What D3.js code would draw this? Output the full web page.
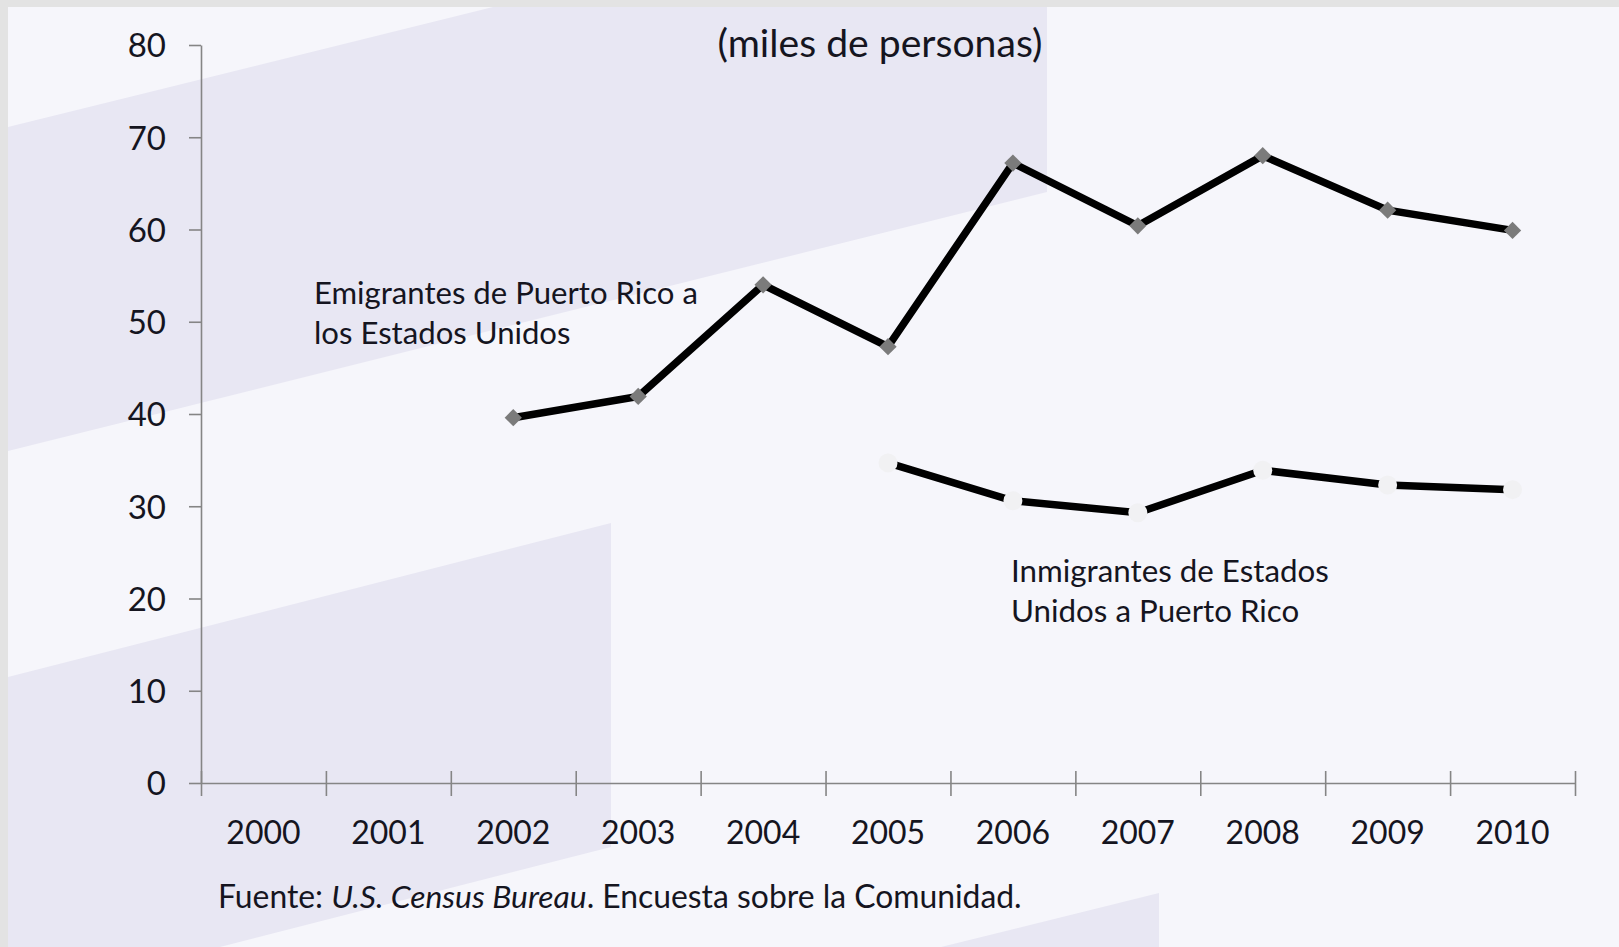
<!DOCTYPE html>
<html>
<head>
<meta charset="utf-8">
<script src="https://cdn.jsdelivr.net/npm/d3@7"></script>
<style>
  html, body { margin: 0; padding: 0; background: #e3e3e3; }
  svg { display: block; }
  text { font-family: Lato, "Open Sans", sans-serif; fill: #15151f; }
</style>
</head>
<body>
<svg id="chart" width="1619" height="947"></svg>
<script>
// ---------- data ----------
const years = ["2000","2001","2002","2003","2004","2005","2006","2007","2008","2009","2010"];
const emigrantes = [null, null, 39.6, 41.9, 54.0, 47.3, 67.2, 60.4, 68.0, 62.1, 59.9];
const inmigrantes = [null, null, null, null, null, 34.7, 30.6, 29.3, 33.9, 32.3, 31.8];
const yTicks = [0, 10, 20, 30, 40, 50, 60, 70, 80];
const titleText = "(miles de personas)";
const emiLabel = ["Emigrantes de Puerto Rico a", "los Estados Unidos"];
const inmLabel = ["Inmigrantes de Estados", "Unidos a Puerto Rico"];

// ---------- layout ----------
const W = 1619, H = 947;
const plot = { left: 201, right: 1575, top: 45, bottom: 783 };
const svg = d3.select("#chart");

// background panel and decorative shapes
svg.append("rect").attr("x", 0).attr("y", 0).attr("width", W).attr("height", H).attr("fill", "#e3e3e3");
svg.append("rect").attr("x", 8).attr("y", 7).attr("width", W - 8).attr("height", H - 7).attr("fill", "#f6f6fb");
const shapes = [
  [[8,127],[493,7],[1047,7],[1047,192],[8,451]],
  [[8,677],[611,523],[611,847],[220,947],[8,947]],
  [[941,947],[1159,893],[1159,947]]
];
svg.append("g").selectAll("polygon").data(shapes).join("polygon")
  .attr("points", d => d.map(p => p.join(",")).join(" "))
  .attr("fill", "#e8e7f3");

// scales
const xBand = d3.scaleBand().domain(years).range([plot.left, plot.right]).paddingInner(0).paddingOuter(0);
const xEdge = d3.scaleLinear().domain([0, years.length]).range([plot.left, plot.right]);
const y = d3.scaleLinear().domain([0, 80]).range([plot.bottom, plot.top]);
const cx = yr => xBand(yr) + xBand.bandwidth() / 2;

const axisColor = "#858585";

// y axis
const gy = svg.append("g").attr("transform", `translate(${plot.left},0)`)
  .call(d3.axisLeft(y).tickValues(yTicks).tickSize(12).tickSizeOuter(0).tickPadding(23));
gy.select(".domain").attr("stroke", axisColor).attr("stroke-width", 1.6);
gy.selectAll(".tick line").attr("stroke", axisColor).attr("stroke-width", 1.6);
gy.selectAll(".tick text").style("font-size", "33px").attr("fill", "#15151f").attr("dy", "0.36em");

// x axis: boundary ticks
const gx = svg.append("g").attr("transform", `translate(0,${plot.bottom})`)
  .call(d3.axisBottom(xEdge).tickValues(d3.range(years.length + 1)).tickSize(13).tickSizeOuter(0).tickFormat(""));
gx.select(".domain").attr("stroke", axisColor).attr("stroke-width", 1.6);
gx.selectAll(".tick line").attr("stroke", axisColor).attr("stroke-width", 1.6).attr("y1", -12);

// x axis labels
const gxl = svg.append("g").attr("transform", `translate(0,${plot.bottom})`)
  .call(d3.axisBottom(xBand).tickSize(0).tickPadding(61));
gxl.select(".domain").remove();
gxl.selectAll(".tick text").style("font-size", "32px").attr("fill", "#15151f").attr("dy", "0");

// lines
const line = d3.line()
  .defined(d => d.v != null)
  .x(d => cx(d.yr))
  .y(d => y(d.v));
const emiData = years.map((yr, i) => ({ yr, v: emigrantes[i] }));
const inmData = years.map((yr, i) => ({ yr, v: inmigrantes[i] }));

svg.append("path").datum(inmData).attr("d", line)
  .attr("fill", "none").attr("stroke", "#000").attr("stroke-width", 7.5).attr("stroke-linejoin", "miter");
svg.append("g").selectAll("circle").data(inmData.filter(d => d.v != null)).join("circle")
  .attr("cx", d => cx(d.yr)).attr("cy", d => y(d.v)).attr("r", 9.5)
  .attr("fill", "#f1f1f3");

svg.append("path").datum(emiData).attr("d", line)
  .attr("fill", "none").attr("stroke", "#000").attr("stroke-width", 7.5).attr("stroke-linejoin", "miter");
svg.append("g").selectAll("path.m").data(emiData.filter(d => d.v != null)).join("path")
  .attr("class", "m")
  .attr("d", d3.symbol().type(d3.symbolDiamond2).size(190))
  .attr("transform", d => `translate(${cx(d.yr)},${y(d.v)})`)
  .attr("fill", "#7b7b7b");

// helper: fit font size so that text width matches a target
function fitSize(str, target, base) {
  const t = svg.append("text").style("font-size", base + "px").text(str);
  const w = t.node().getComputedTextLength();
  t.remove();
  return base * target / w;
}

// title
const titleSize = fitSize(titleText, 325, 32);
svg.append("text").attr("x", 880).attr("y", 57).attr("text-anchor", "middle")
  .style("font-size", titleSize + "px").text(titleText);

// series labels
const emiSize = fitSize(emiLabel[0], 384, 28);
svg.append("g").selectAll("text").data(emiLabel).join("text")
  .attr("x", 314).attr("y", (d, i) => 304 + i * 40)
  .style("font-size", emiSize + "px").text(d => d);

const inmSize = fitSize(inmLabel[0], 318, 28);
svg.append("g").selectAll("text").data(inmLabel).join("text")
  .attr("x", 1011).attr("y", (d, i) => 582 + i * 40)
  .style("font-size", inmSize + "px").text(d => d);

// footer
const foot = svg.append("text").attr("x", 218).attr("y", 908);
foot.append("tspan").text("Fuente: ");
foot.append("tspan").style("font-style", "italic").text("U.S. Census Bureau");
foot.append("tspan").text(". Encuesta sobre la Comunidad.");
{
  const w = foot.style("font-size", "28px").node().getComputedTextLength();
  foot.style("font-size", (28 * 804 / w) + "px");
}
</script>
</body>
</html>
